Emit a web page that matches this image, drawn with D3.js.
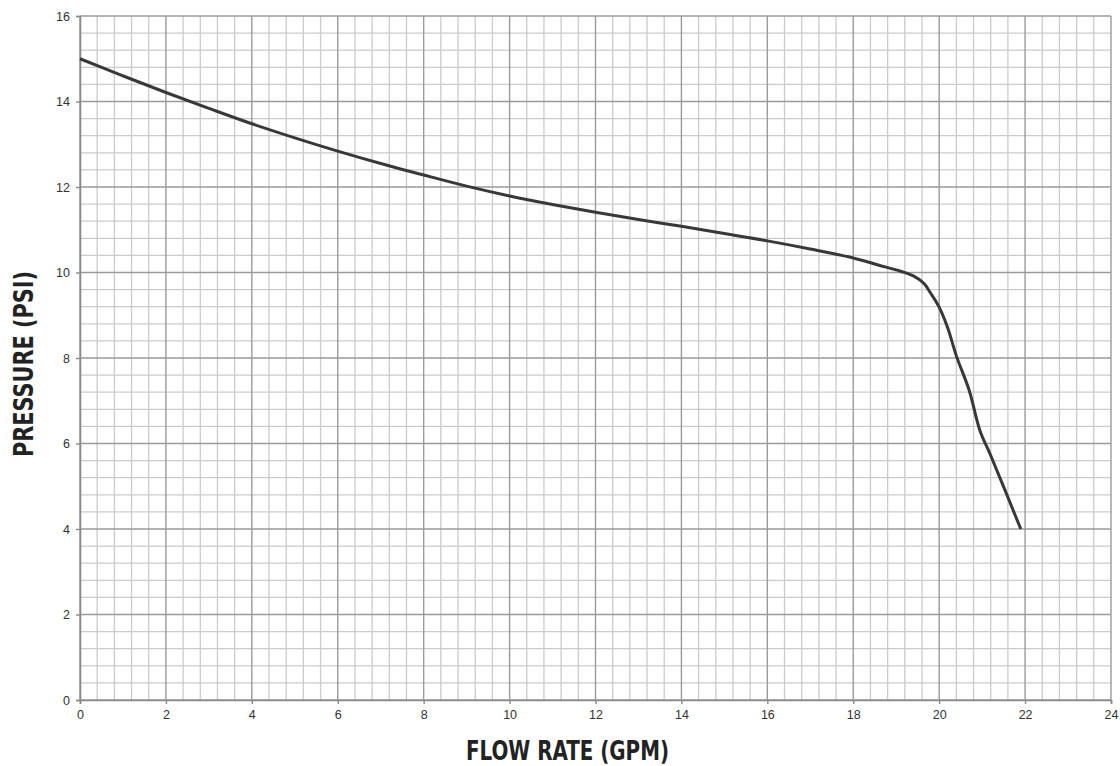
<!DOCTYPE html>
<html>
<head>
<meta charset="utf-8">
<script src="https://cdn.jsdelivr.net/npm/d3@7"></script>
<style>
  body { margin: 0; background: #fff; }
  .tick text { font-family: "Liberation Sans", Arial, sans-serif; font-size: 12.5px; fill: #333; }
  .title { font-family: "DejaVu Sans Condensed", "Liberation Sans Narrow", sans-serif; font-stretch: condensed; font-weight: bold; font-size: 26px; fill: #222; }
</style>
</head>
<body>
<div id="chart"></div>
<script>
// pump curve
var flowRate = [0, 1, 2, 3, 4, 5, 6, 7, 8, 9, 10, 11, 12, 13, 14, 15, 16, 17, 18, 18.6, 19.1, 19.4, 19.65, 19.8, 20.0, 20.2, 20.4, 20.7, 20.95, 21.2, 21.9];
var pressure = [15, 14.6, 14.21, 13.84, 13.48, 13.15, 12.84, 12.55, 12.28, 12.02, 11.79, 11.59, 11.41, 11.24, 11.08, 10.91, 10.74, 10.55, 10.34, 10.17, 10.03, 9.92, 9.74, 9.52, 9.19, 8.7, 8.05, 7.24, 6.3, 5.72, 4.0];
var xTicks = d3.range(0, 25, 2);
var yTicks = d3.range(0, 17, 2);

var svgWidth = 1120, svgHeight = 766;
var margin = { top: 16, left: 80, right: 9, bottom: 66 };
var width = svgWidth - margin.left - margin.right;
var height = svgHeight - margin.top - margin.bottom;

var svg = d3.select("#chart").append("svg")
  .attr("width", svgWidth)
  .attr("height", svgHeight);

var chartGroup = svg.append("g")
  .attr("transform", `translate(${margin.left}, ${margin.top})`);

var xScale = d3.scaleLinear().domain([0, 24]).range([0, width]);
var yScale = d3.scaleLinear().domain([0, 16]).range([height, 0]);

// minor grid every 0.4
var minor = d3.range(0, 24.01, 0.4).filter(d => Math.abs(d / 2 - Math.round(d / 2)) > 0.01);
var minorY = d3.range(0, 16.01, 0.4).filter(d => Math.abs(d / 2 - Math.round(d / 2)) > 0.01);

chartGroup.append("g").selectAll("line").data(minor).enter().append("line")
  .attr("x1", d => xScale(d)).attr("x2", d => xScale(d))
  .attr("y1", 0).attr("y2", height)
  .attr("stroke", "#cbcbcb").attr("stroke-width", 1.3);
chartGroup.append("g").selectAll("line").data(minorY).enter().append("line")
  .attr("y1", d => yScale(d)).attr("y2", d => yScale(d))
  .attr("x1", 0).attr("x2", width)
  .attr("stroke", "#cbcbcb").attr("stroke-width", 1.3);

// major grid every 2
chartGroup.append("g").selectAll("line").data(xTicks).enter().append("line")
  .attr("x1", d => xScale(d)).attr("x2", d => xScale(d))
  .attr("y1", 0).attr("y2", height)
  .attr("stroke", "#9a9a9a").attr("stroke-width", 1.4);
chartGroup.append("g").selectAll("line").data(yTicks).enter().append("line")
  .attr("y1", d => yScale(d)).attr("y2", d => yScale(d))
  .attr("x1", 0).attr("x2", width)
  .attr("stroke", "#9a9a9a").attr("stroke-width", 1.4);

// axes
var xaxis = d3.axisBottom(xScale).tickValues(xTicks).tickSize(4).tickPadding(6);
var yaxis = d3.axisLeft(yScale).tickValues(yTicks).tickSize(4).tickPadding(6);

var gx = chartGroup.append("g")
  .attr("transform", `translate(0, ${height})`)
  .call(xaxis);
var gy = chartGroup.append("g").call(yaxis);
[gx, gy].forEach(function(g) {
  g.select(".domain").attr("stroke", "#8a8a8a").attr("stroke-width", 1.6);
  g.selectAll(".tick line").attr("stroke", "#8a8a8a").attr("stroke-width", 1.4);
});

// curve
var line = d3.line()
  .x((d, i) => xScale(flowRate[i]))
  .y(d => yScale(d))
  .curve(d3.curveCatmullRom.alpha(0.5));

chartGroup.append("path")
  .datum(pressure)
  .attr("d", line)
  .attr("fill", "none")
  .attr("stroke", "#383838")
  .attr("stroke-width", 3);

// titles (squeezed to look condensed)
svg.append("text").attr("class", "title")
  .attr("x", 466).attr("y", 760)
  .attr("textLength", 203)
  .attr("lengthAdjust", "spacingAndGlyphs")
  .text("FLOW RATE (GPM)");

svg.append("text").attr("class", "title")
  .attr("transform", "translate(33, 457) rotate(-90)")
  .attr("textLength", 186)
  .attr("lengthAdjust", "spacingAndGlyphs")
  .text("PRESSURE (PSI)");
</script>
</body>
</html>
